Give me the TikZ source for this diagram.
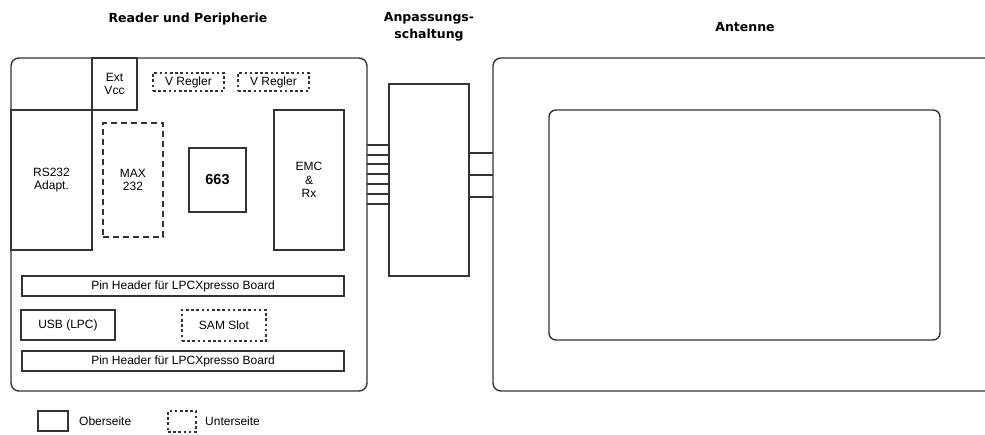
\documentclass[tikz,border=0pt]{standalone}
\usepackage{fontspec}
\setmainfont{Liberation Sans}
\newfontfamily\titlefont{DejaVu Sans}
\usepackage{tikz}
\usetikzlibrary{positioning,calc}
\definecolor{linegray}{RGB}{51,51,51}
\newcommand{\partfont}{\fontsize{12}{13.5}\selectfont}
\tikzset{
    part/.style={
        rectangle,
        draw=linegray,
        line width=1.4pt,
        inner sep=0pt,
        outer sep=0pt,
        anchor=north west,
        align=center,
        font=\partfont
    },
    unterseite/.style={
        part,
        dash pattern=on 2.6pt off 2.6pt
    },
    board/.style={
        part,
        rounded corners=8pt
    },
    wire/.style={
        draw=linegray,
        line width=1.4pt
    },
    heading/.style={
        align=center,
        font=\titlefont\bfseries\fontsize{12.5}{17}\selectfont
    }
}
\begin{document}
\begin{tikzpicture}[x=1pt,y=-1pt]
\useasboundingbox (0,0) rectangle (985,434);
\fill[white] (0,0) rectangle (985,434);
\clip (0,0) rectangle (985,434);

% Titles
\node[heading] (t-reader) at (188,19) {Reader und Peripherie};
\node[heading] (t-anp) at (429,27) {Anpassungs-\\schaltung};
\node[heading] (t-ant) at (745,27) {Antenne};

% Reader board
\node[board, minimum width=356, minimum height=333] (reader) at (11,58) {};
\node[part, minimum width=45, minimum height=52] (extvcc) at (92,58) {Ext\\Vcc};
\node[part, minimum width=81, minimum height=140, below=0pt of extvcc.south west, anchor=north east] (rs232) {RS232\\Adapt.};
\node[unterseite, minimum width=71, minimum height=18] (vreg1) at (153,73) {V Regler};
\node[unterseite, minimum width=71, minimum height=18, right=14pt of vreg1.north east, anchor=north west] (vreg2) {V Regler};
\node[unterseite, dash pattern=on 6pt off 4pt, minimum width=60, minimum height=114] (max) at (103,123) {MAX\\232};
\node[part, minimum width=57, minimum height=64, font=\fontsize{14.5}{16}\selectfont\bfseries] (chip) at (189,148) {663};
\node[part, minimum width=70, minimum height=140] (emc) at (274,110) {EMC\\\&\\Rx};

% Pin header, USB, SAM
\node[part, minimum width=322, minimum height=20] (pins1) at (22,276) {Pin Header für LPCXpresso Board};
\node[part, minimum width=94, minimum height=30] (usb) at (21,310) {USB (LPC)};
\node[unterseite, minimum width=84, minimum height=31] (sam) at (182,310) {SAM Slot};
\node[part, minimum width=322, minimum height=20] (pins2) at (22,351) {Pin Header für LPCXpresso Board};

% Anpassungsschaltung
\node[part, minimum width=80, minimum height=192] (anp) at (389,84) {};

% Antenne
\node[board, minimum width=520, minimum height=333] (ant) at (493,58) {};
\node[board, rounded corners=7pt, minimum width=391, minimum height=230] (coil) at (549,110) {};

% Leitungen
\foreach \y in {145,155,164,174,184,194,204}
    \draw[wire] (reader.east |- 0,\y) -- (anp.west |- 0,\y);
\foreach \y in {153,175,197}
    \draw[wire] (anp.east |- 0,\y) -- (ant.west |- 0,\y);

% Legende
\node[part, minimum width=30, minimum height=20] (leg-ober) at (38,411) {};
\node[font=\partfont, right=11pt of leg-ober.east, anchor=west, inner sep=0pt] (leg-ober-txt) {Oberseite};
\node[unterseite, minimum width=28, minimum height=21] (leg-unter) at (168,411) {};
\node[font=\partfont, right=9pt of leg-unter.east, anchor=west, inner sep=0pt] (leg-unter-txt) {Unterseite};
\end{tikzpicture}
\end{document}
